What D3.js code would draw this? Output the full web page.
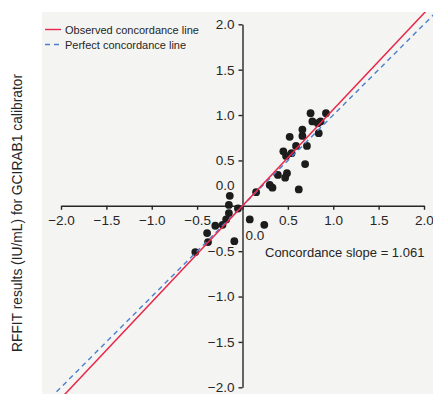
<!DOCTYPE html>
<html>
<head>
<meta charset="utf-8">
<script src="https://cdn.jsdelivr.net/npm/d3@7"></script>
<style>
  html, body { margin: 0; padding: 0; background: #ffffff; }
  svg { display: block; font-family: "Liberation Sans", Arial, Helvetica, sans-serif; }
</style>
</head>
<body>
<svg id="chart" width="433" height="394"></svg>
<script>
// Reference values (x) and RFFIT results for the GCIRAB1 calibrator (y), IU/mL
const refValues = [
  0.75, 0.92, 0.77, 0.83, 0.86, 0.84, 0.66, 0.66, 0.52, 0.71,
  0.59, 0.45, 0.48, 0.54, 0.69, 0.39, 0.49, 0.47, 0.30, 0.33,
  0.62, 0.15, -0.14, -0.15, -0.05, -0.15, 0.08, 0.24, -0.18, -0.22,
  -0.30, -0.39, -0.38, -0.09, -0.52
];
const rffitValues = [
  1.02, 1.02, 0.93, 0.91, 0.93, 0.80, 0.84, 0.77, 0.76, 0.66,
  0.66, 0.60, 0.55, 0.58, 0.46, 0.34, 0.36, 0.31, 0.23, 0.20,
  0.18, 0.15, 0.11, 0.01, -0.03, -0.08, -0.15, -0.21, -0.15, -0.21,
  -0.22, -0.30, -0.40, -0.39, -0.51
];
const xTicks = [-2.0, -1.5, -1.0, -0.5, 0.0, 0.5, 1.0, 1.5, 2.0];
const yTicks = [-2.0, -1.5, -1.0, -0.5, 0.0, 0.5, 1.0, 1.5, 2.0];
const observedSlope = 1.061;
const perfectSlope = 1.0;
const legendLabels = ["Observed concordance line", "Perfect concordance line"];
const slopeLabel = "Concordance slope = " + observedSlope.toFixed(3);
const yTitle = "RFFIT results (IU/mL) for GCIRAB1 calibrator";

const svg = d3.select("#chart");
const W = 433, H = 394;
const panel = { x0: 42, y0: 12, x1: W, y1: H };

const x = d3.scaleLinear().domain([-2, 2]).range([61, 424]);
const y = d3.scaleLinear().domain([-2, 2]).range([387.3, 24.3]);
const fmt = d3.format(".1f");
const ink = "#262626";
const red = "#e6284a";
const blue = "#4a7fcf";

// panel background
svg.append("rect")
  .attr("x", panel.x0).attr("y", panel.y0)
  .attr("width", panel.x1 - panel.x0).attr("height", panel.y1 - panel.y0)
  .attr("fill", "#f4f4f2");

svg.append("clipPath").attr("id", "panel-clip")
  .append("rect")
  .attr("x", panel.x0).attr("y", panel.y0)
  .attr("width", panel.x1 - panel.x0).attr("height", panel.y1 - panel.y0);

// x axis through y = 0
const xAxis = svg.append("g")
  .attr("transform", `translate(0,${y(0)})`)
  .call(d3.axisBottom(x).tickValues(xTicks).tickFormat(fmt)
    .tickSize(4).tickSizeOuter(0).tickPadding(6));
xAxis.selectAll("text")
  .attr("font-size", "13.5px")
  .attr("fill", ink)
  .attr("font-family", "Liberation Sans, Arial, sans-serif");
xAxis.selectAll(".tick").filter(d => d === 0).select("text")
  .attr("text-anchor", "start")
  .attr("x", 2.5)
  .attr("y", 24.5);

// y axis through x = 0
const yAxis = svg.append("g")
  .attr("transform", `translate(${x(0)},0)`)
  .call(d3.axisLeft(y).tickValues(yTicks).tickFormat(fmt)
    .tickSize(4).tickSizeOuter(0).tickPadding(4));
yAxis.selectAll("text")
  .attr("font-size", "13.5px")
  .attr("fill", ink)
  .attr("font-family", "Liberation Sans, Arial, sans-serif");
yAxis.selectAll(".tick").filter(d => d === 0).select("text")
  .attr("y", -21);

[xAxis, yAxis].forEach(g => {
  g.selectAll("path, line").attr("stroke", ink).attr("stroke-width", 1.4);
});

// data points
const pts = refValues.map((v, i) => ({ ref: v, res: rffitValues[i] }));
svg.append("g")
  .selectAll("circle")
  .data(pts)
  .join("circle")
  .attr("cx", d => x(d.ref))
  .attr("cy", d => y(d.res))
  .attr("r", 3.9)
  .attr("fill", "#1c1c1c");

// concordance lines
const lineG = svg.append("g").attr("clip-path", "url(#panel-clip)");
const ext = [-2.4, 2.4];
const line = d3.line().x(d => x(d[0])).y(d => y(d[1]));
lineG.append("path")
  .attr("d", line(ext.map(v => [v, v * perfectSlope])))
  .attr("fill", "none")
  .attr("stroke", blue)
  .attr("stroke-width", 1.4)
  .attr("stroke-dasharray", "5,4");
lineG.append("path")
  .attr("d", line(ext.map(v => [v, v * observedSlope])))
  .attr("fill", "none")
  .attr("stroke", red)
  .attr("stroke-width", 1.5);

// legend
const legend = svg.append("g");
const legendItems = [
  { label: legendLabels[0], color: red, dash: null, y: 29.5 },
  { label: legendLabels[1], color: blue, dash: "5,4", y: 44.5 }
];
legendItems.forEach(it => {
  legend.append("line")
    .attr("x1", 45).attr("x2", 61)
    .attr("y1", it.y).attr("y2", it.y)
    .attr("stroke", it.color)
    .attr("stroke-width", 1.4)
    .attr("stroke-dasharray", it.dash);
  legend.append("text")
    .attr("x", 65).attr("y", it.y + 4)
    .attr("font-size", "11px")
    .attr("fill", ink)
    .text(it.label);
});

// slope annotation
svg.append("text")
  .attr("x", 265).attr("y", 257)
  .attr("font-size", "13px")
  .attr("fill", ink)
  .text(slopeLabel);

// y axis title
svg.append("text")
  .attr("transform", "translate(22,213) rotate(-90)")
  .attr("text-anchor", "middle")
  .attr("font-size", "13.8px")
  .attr("fill", ink)
  .text(yTitle);
</script>
</body>
</html>
